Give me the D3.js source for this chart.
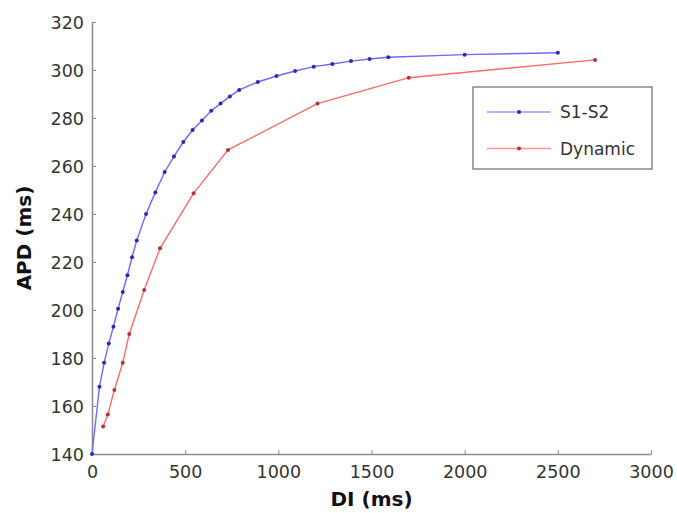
<!DOCTYPE html>
<html>
<head>
<meta charset="utf-8">
<script src="https://cdn.jsdelivr.net/npm/d3@7"></script>
<style>
body { margin: 0; background: #fff; }
svg text { font-family: "DejaVu Sans", sans-serif; }
</style>
</head>
<body>
<div id="chart"></div>
<script>
// data
var s1s2DI  = [0, 40, 65, 90, 115, 140, 165, 190, 215, 240, 290, 340, 390, 440, 490, 540, 590, 640, 690, 740, 790, 890, 990, 1090, 1190, 1290, 1390, 1490, 1590, 2000, 2500];
var s1s2APD = [140, 168, 178, 186, 193, 200.5, 207.5, 214.5, 222, 229, 240, 249, 257.5, 264, 270, 275, 279, 283, 286, 289, 291.7, 295, 297.5, 299.6, 301.4, 302.5, 303.7, 304.6, 305.3, 306.4, 307.2];
var dynDI   = [60, 85, 120, 165, 200, 280, 365, 545, 730, 1210, 1700, 2700];
var dynAPD  = [151.5, 156.5, 166.7, 178, 190, 208.3, 225.7, 248.6, 266.7, 286, 296.8, 304.2];
var xTicks = [0, 500, 1000, 1500, 2000, 2500, 3000];
var yTicks = [140, 160, 180, 200, 220, 240, 260, 280, 300, 320];
var seriesNames = ["S1-S2", "Dynamic"];

var width = 677, height = 513;
var margin = {left: 92, right: 26, top: 22, bottom: 59};

var svg = d3.select("#chart").append("svg")
    .attr("width", width)
    .attr("height", height);

var x = d3.scaleLinear().domain([0, 3000]).range([margin.left, width - margin.right]);
var y = d3.scaleLinear().domain([140, 320]).range([height - margin.bottom, margin.top]);

//axes, ticks pointing inward like matlab
var xAxis = d3.axisBottom(x).tickValues(xTicks).tickFormat(d3.format("d"))
    .tickSizeInner(-4).tickSizeOuter(0).tickPadding(12);
var yAxis = d3.axisLeft(y).tickValues(yTicks).tickFormat(d3.format("d"))
    .tickSizeInner(-4).tickSizeOuter(0).tickPadding(8);

var gx = svg.append("g")
    .attr("transform", "translate(0," + y(140) + ")")
    .call(xAxis);
var gy = svg.append("g")
    .attr("transform", "translate(" + x(0) + ",0)")
    .call(yAxis);

[gx, gy].forEach(function(g) {
    g.select(".domain").attr("stroke", "#8a8a8a").attr("stroke-width", 1.5);
    g.selectAll(".tick line").attr("stroke", "#8a8a8a").attr("stroke-width", 1);
    g.selectAll(".tick text")
        .attr("fill", "#333")
        .style("font-size", "17.5px")
        .style("font-family", "DejaVu Sans, sans-serif");
});
gx.selectAll(".tick text").attr("dy", "0.71em");
gy.selectAll(".tick text").attr("dy", "0.36em");

svg.append("text")
    .attr("x", (x(0) + x(3000)) / 2)
    .attr("y", 506)
    .attr("text-anchor", "middle")
    .attr("font-weight", "bold")
    .attr("font-size", "20px")
    .attr("fill", "#111")
    .text("DI (ms)");

svg.append("text")
    .attr("transform", "translate(31," + ((y(140) + y(320)) / 2) + ") rotate(-90)")
    .attr("text-anchor", "middle")
    .attr("font-weight", "bold")
    .attr("font-size", "20px")
    .attr("fill", "#111")
    .text("APD (ms)");

var line = d3.line()
    .x(function(d) { return x(d[0]); })
    .y(function(d) { return y(d[1]); });

var series = [
    {name: seriesNames[0], pts: d3.zip(s1s2DI, s1s2APD), line: "#6b6bff", dot: "#2a2ab0"},
    {name: seriesNames[1], pts: d3.zip(dynDI, dynAPD), line: "#ff6b6b", dot: "#b8303a"}
];

series.forEach(function(s) {
    svg.append("path")
        .datum(s.pts)
        .attr("fill", "none")
        .attr("stroke", s.line)
        .attr("stroke-width", 1.4)
        .attr("d", line);
    svg.selectAll(null)
        .data(s.pts)
        .enter().append("circle")
        .attr("cx", function(d) { return x(d[0]); })
        .attr("cy", function(d) { return y(d[1]); })
        .attr("r", 2)
        .attr("fill", s.dot);
});

//legend
var legend = svg.append("g").attr("transform", "translate(473,87)");
legend.append("rect")
    .attr("width", 179)
    .attr("height", 82)
    .attr("fill", "#fff")
    .attr("stroke", "#777")
    .attr("stroke-width", 1.3);

series.forEach(function(s, i) {
    var ly = 25 + i * 36.5;
    legend.append("line")
        .attr("x1", 14).attr("x2", 78)
        .attr("y1", ly).attr("y2", ly)
        .attr("stroke", s.line)
        .attr("stroke-opacity", 0.7)
        .attr("stroke-width", 1.3);
    legend.append("circle")
        .attr("cx", 46).attr("cy", ly).attr("r", 2)
        .attr("fill", s.dot);
    legend.append("text")
        .attr("x", 87).attr("y", ly)
        .attr("dy", "0.36em")
        .attr("font-size", "17px")
        .attr("fill", "#333")
        .text(s.name);
});
</script>
</body>
</html>
